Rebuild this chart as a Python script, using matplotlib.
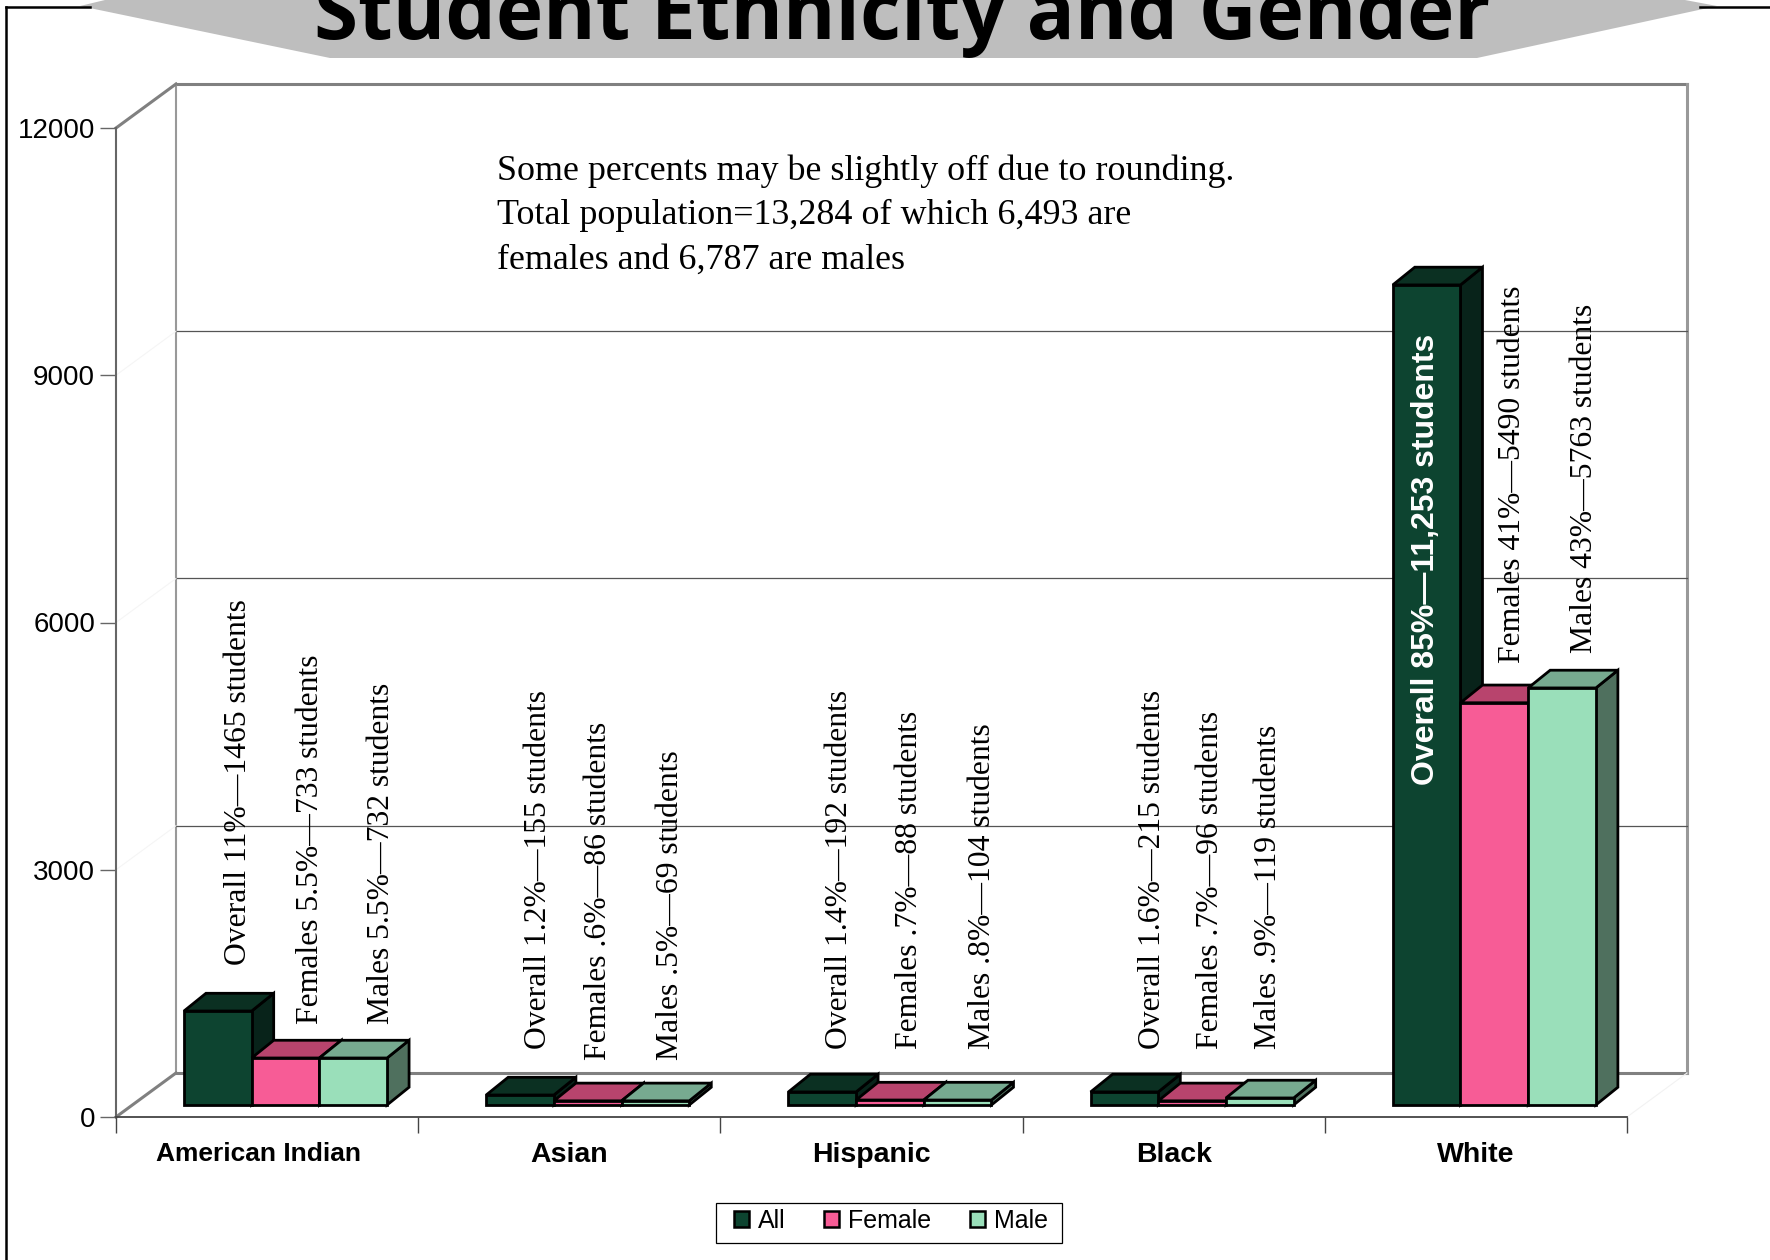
#!/usr/bin/env python3
"""Student ethnicity and gender, drawn as a faux 3D column chart."""

import matplotlib
matplotlib.use('Agg')
import matplotlib.pyplot as plt
from matplotlib.patches import Patch, Polygon, Rectangle

W, H = 1770, 1260

# ── Data ──────────────────────────────────────────────────────────────────────
categories = ['American Indian', 'Asian', 'Hispanic', 'Black', 'White']
series_names = ['All', 'Female', 'Male']
all_values = [1140, 121, 158, 158, 9950]
female_values = [570, 50, 60, 50, 4880]
male_values = [570, 50, 60, 85, 5060]
y_ticks = [0, 3000, 6000, 9000, 12000]
grid_values = [3000, 6000, 9000]

bar_labels = [
    'Overall 11%—1465 students', 'Females 5.5%—733 students', 'Males 5.5%—732 students',
    'Overall 1.2%—155 students', 'Females .6%—86 students', 'Males .5%—69 students',
    'Overall 1.4%—192 students', 'Females .7%—88 students', 'Males .8%—104 students',
    'Overall 1.6%—215 students', 'Females .7%—96 students', 'Males .9%—119 students',
    'Overall 85%—11,253 students', 'Females 41%—5490 students', 'Males 43%—5763 students',
]
note_lines = [
    'Some percents may be slightly off due to rounding.',
    'Total population=13,284 of which 6,493 are',
    'females and 6,787 are males',
]
title = 'Student Ethnicity and Gender'

# label anchors in pixels (x centre, y of text start)
label_x = [234, 306, 377, 534, 594, 666, 835, 905, 978, 1148, 1206, 1264, 1425, 1508, 1580]
label_y = [965, 1024, 1024, 1049, 1060, 1060, 1049, 1049, 1049, 1049, 1049, 1049, 785, 663, 653]

# ── Style ─────────────────────────────────────────────────────────────────────
FRONT = ['#0d4430', '#f75c96', '#9adfba']
TOP = ['#0b3022', '#b8446d', '#77aa90']
SIDE = ['#08231a', '#8a3355', '#4f705e']
WALL = '#808080'
BANNER = '#bebebe'
SERIF = 'Liberation Serif'
SANS = 'Liberation Sans'

# depth offsets, in data units
BACK_X, BACK_Y = 0.1985, 534     # front of the floor to the back wall
SLOT_X, SLOT_Y = 0.061, 146      # where the bars stand on the floor
BAR_X, BAR_Y = 0.0728, 215       # depth of one bar
BAR_W = 0.224

fig = plt.figure(figsize=(W / 100, H / 100), dpi=100, facecolor='white')
ax = fig.add_axes([116 / W, 1 - 1117 / H, (1627 - 116) / W, (1117 - 128) / H])
ax.set_xlim(0, 5)
ax.set_ylim(0, 12000)
ax.patch.set_visible(False)
for side in ['top', 'right']:
    ax.spines[side].set_visible(False)
ax.spines['left'].set_color('#666666')
ax.spines['left'].set_linewidth(1.5)
ax.spines['bottom'].set_color('#444444')
ax.spines['bottom'].set_linewidth(1.3)


def wall_line(xs, ys, color=WALL, lw=2.2, z=1):
    ax.plot(xs, ys, color=color, lw=lw, zorder=z, clip_on=False, solid_capstyle='projecting')


# ── Walls and floor ───────────────────────────────────────────────────────────
wall_line([BACK_X, 5 + BACK_X], [12000 + BACK_Y] * 2)
wall_line([BACK_X, 5 + BACK_X], [BACK_Y] * 2)
wall_line([BACK_X, BACK_X], [BACK_Y, 12000 + BACK_Y], color='#999999', lw=1.5)
wall_line([5 + BACK_X, 5 + BACK_X], [BACK_Y, 12000 + BACK_Y], color='#999999', lw=2.2)
wall_line([0, BACK_X], [12000, 12000 + BACK_Y])
wall_line([0, BACK_X], [0, BACK_Y])
wall_line([5, 5 + BACK_X], [0, BACK_Y], color='#f2f2f2', lw=0.8)
for g in grid_values:
    wall_line([BACK_X, 5 + BACK_X], [g + BACK_Y] * 2, color='#555555', lw=0.9)
    wall_line([0, BACK_X], [g, g + BACK_Y], color='#f5f5f5', lw=0.8)

# ── Bars ──────────────────────────────────────────────────────────────────────
centers = [i + 0.5 for i in range(len(categories))]
for s, values in enumerate([all_values, female_values, male_values]):
    xs = [c + SLOT_X + (s - 1) * BAR_W for c in centers]
    z = 3 + s
    bars = ax.bar(xs, values, BAR_W, bottom=SLOT_Y, color=FRONT[s], edgecolor='black',
                  linewidth=2.0, zorder=z + 0.1, clip_on=False)
    for bar in bars:
        x0, x1 = bar.get_x(), bar.get_x() + bar.get_width()
        y0, y1 = bar.get_y(), bar.get_y() + bar.get_height()
        ax.add_patch(Polygon([(x1, y0), (x1 + BAR_X, y0 + BAR_Y), (x1 + BAR_X, y1 + BAR_Y), (x1, y1)],
                             facecolor=SIDE[s], edgecolor='black', lw=2.0, zorder=z, clip_on=False))
        ax.add_patch(Polygon([(x0, y1), (x0 + BAR_X, y1 + BAR_Y), (x1 + BAR_X, y1 + BAR_Y), (x1, y1)],
                             facecolor=TOP[s], edgecolor='black', lw=2.0, zorder=z, clip_on=False))

# ── Axes furniture ────────────────────────────────────────────────────────────
ax.set_yticks(y_ticks)
ax.set_yticklabels([str(t) for t in y_ticks], family=SANS, fontsize=20)
ax.tick_params(axis='y', length=11.5, width=1, color='#666666', pad=3.5)
ax.set_xticks(range(len(categories) + 1))
ax.set_xticklabels([])
ax.tick_params(axis='x', which='major', length=11.5, width=1, color='#444444')
# the long first label sits a little left of its slot
ax.set_xticks([centers[0] - 0.03] + centers[1:], minor=True)
ax.set_xticklabels(categories, minor=True, family=SANS, weight='bold', fontsize=20.5)
ax.tick_params(axis='x', which='minor', length=0, pad=18)
ax.get_xticklabels(minor=True)[0].set_fontsize(19)

handles = [Patch(facecolor=FRONT[i], edgecolor='black', lw=1.8, label=series_names[i]) for i in range(3)]
leg = ax.legend(handles=handles, ncol=3, loc='center', bbox_to_anchor=(891 / W, 1 - 1221 / H),
                bbox_transform=fig.transFigure, frameon=False,
                prop={'family': SANS, 'size': 18}, handlelength=0.6, handleheight=0.6,
                handletextpad=0.35, columnspacing=1.55, borderpad=0, borderaxespad=0)
fig.add_artist(Rectangle((716 / W, 1 - 1243 / H), (1062 - 716) / W, (1243 - 1203) / H,
                         transform=fig.transFigure, facecolor='none', edgecolor='black', lw=0.9))

# ── Text on the chart ─────────────────────────────────────────────────────────
for i, (txt, lx, ly) in enumerate(zip(bar_labels, label_x, label_y)):
    on_bar = i == 12
    fig.text((lx + (1 if on_bar else 4.5)) / W, 1 - ly / H, txt, rotation=90, ha='center', va='bottom',
             family=SANS if on_bar else SERIF,
             weight='bold' if on_bar else 'normal',
             color='white' if on_bar else 'black',
             fontsize=23 if on_bar else 22.8, zorder=10)

for line, ly in zip(note_lines, [180, 224, 269]):
    fig.text(497 / W, 1 - ly / H, line, family=SERIF, fontsize=25.9, va='baseline', zorder=10)

# ── Page frame and title banner ───────────────────────────────────────────────
frame = [([6, 6], [H, 7]), ([6, 90], [7, 7]), ([1700, W], [7, 7])]
for xs, ys in frame:
    fig.add_artist(plt.Line2D([x / W for x in xs], [1 - y / H for y in ys], color='black', lw=1.8))
banner = [(80, 6), (105, 0), (1685, 0), (1717, 6), (1477, 58), (330, 58)]
fig.add_artist(Polygon([(x / W, 1 - y / H) for x, y in banner], closed=True, facecolor=BANNER,
                       edgecolor='none', transform=fig.transFigure))
fig.text(902 / W, 1 - 39 / H, title, family='Open Sans', weight='bold', fontsize=57.5,
         ha='center', va='baseline', color='black')

fig.savefig('out.png', dpi=100, facecolor='white')
